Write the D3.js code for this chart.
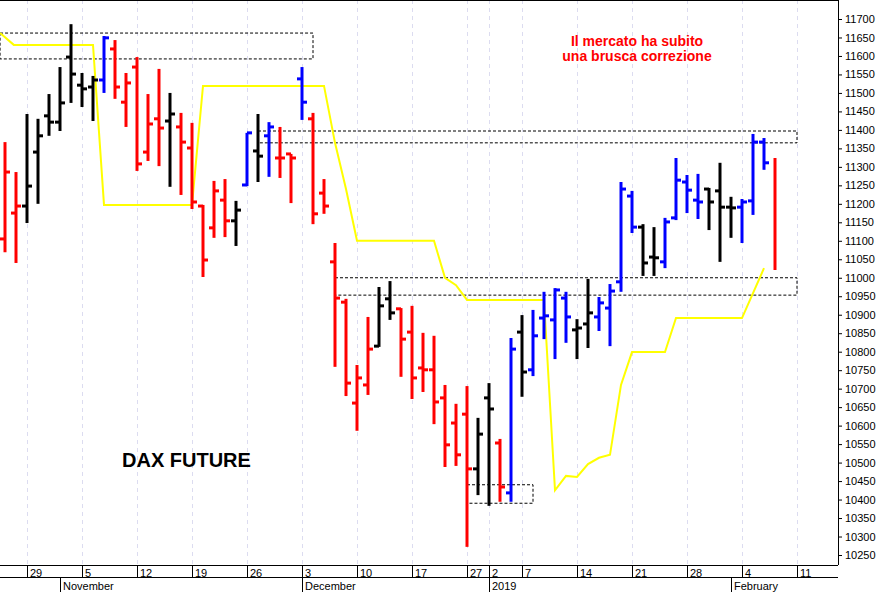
<!DOCTYPE html>
<html>
<head>
<meta charset="utf-8">
<script src="https://cdn.jsdelivr.net/npm/d3@7"></script>
<style>
  body { margin: 0; background: #fff; }
  text { font-family: "Liberation Sans", Arial, sans-serif; }
</style>
</head>
<body>
<script>
// OHLC per trading day (index 0 = 25 Oct 2018 ... 70 = 7 Feb 2019)
const highs  = [11367,11286,11443,11430,11497,11570,11686,11554,11546,11654,11643,11554,11597,11497,11565,11500,11446,11419,11197,11262,11267,11208,11392,11443,11421,11408,11335,11570,11446,11267,11094,10943,10764,10894,10975,10991,10918,10924,10851,10843,10710,10659,10707,10621,10715,10564,10837,10899,10913,10962,10972,10962,10888,10997,10948,10983,11259,11235,11145,11137,11162,11324,11278,11281,11243,11311,11219,11213,11389,11378,11324];
const lows   = [11069,11040,11148,11200,11384,11397,11473,11462,11424,11500,11484,11408,11289,11316,11302,11246,11224,11186,11002,11108,11110,11086,11248,11259,11273,11270,11202,11427,11145,11173,10759,10680,10586,10683,10813,10886,10732,10672,10691,10604,10488,10491,10272,10412,10383,10394,10394,10678,10734,10834,10780,10824,10780,10810,10856,10815,10962,11121,11005,11005,11026,11156,11175,11159,11129,11043,11108,11094,11170,11292,11021];
const opens  = [11105,11175,11194,11340,11438,11421,11597,11521,11516,11535,11619,11475,11570,11340,11430,11424,11408,11351,11194,11135,11210,11154,11251,11343,11384,11324,11335,11538,11430,11229,11043,10934,10661,10710,10815,10943,10916,10853,10756,10751,10675,10607,10631,10483,10675,10553,10418,10853,10751,10891,10886,10945,10859,10875,10894,10918,10989,11221,11137,11056,11043,11162,11259,11210,11240,11235,11191,11191,11208,11367,null];
const closes = [11286,11194,11248,11384,11421,11473,11551,11511,11535,11649,11516,11527,11308,11416,11405,11443,11367,11205,11048,11235,11154,11183,11392,11329,11408,11324,11324,11475,11173,11194,10945,10715,10729,10807,10924,10905,10834,10729,10751,10664,10548,10521,10483,10577,10645,10434,10807,10745,10843,10897,10967,10894,10864,10905,10932,10964,11240,11137,11040,11054,11151,11264,11237,11205,11205,11191,11189,11205,11367,11311,null];
const barColors = "rrkkkkkkkbrrrrrkrrrrrkbkbrrbrrrrrrkkrrrrrrrkkrbkbbbbkkbbbbkkbbbbkkkbbbr".split("");

// yellow stop line: [bar index, value]
const stopLine = [[-0.45,11662],[0.8,11630],[8,11630],[9,11197],[17,11197],[18,11519],[29,11519],[30,11365],[31,11240],[32,11100],[39,11100],[40,11000],[41,10980],[42,10940],[49,10940],[50,10425],[51,10464],[52,10461],[53,10496],[54,10513],[55,10521],[56,10710],[57,10799],[60,10799],[61,10891],[67,10891],[69,11026]];

// dashed zones: [from index, to index, low, high]
const zones = [[-0.45,28,11592,11662],[23,72,11365,11397],[30,72,10953,11000],[42,48,10390,10440]];

const yTicks = d3.range(10250, 11701, 50);
const dayTicks = [[2,"29"],[7,"5"],[12,"12"],[17,"19"],[22,"26"],[27,"3"],[32,"10"],[37,"17"],[42,"27"],[44,"2"],[47,"7"],[52,"14"],[57,"21"],[62,"28"],[67,"4"],[72,"11"]];
const monthTicks = [[5,"November"],[27,"December"],[44,"2019"],[66,"February"]];

const W = 896, H = 592, plotR = 838, plotB = 565;
const colorMap = { r: "#ff0000", k: "#000000", b: "#0000ff" };

const x = d3.scaleLinear().domain([0, 70]).range([5, 775]);
const y = d3.scaleLinear().domain([10250, 11700]).range([555, 19]);

const svg = d3.select("body").append("svg").attr("width", W).attr("height", H);

svg.append("defs").append("clipPath").attr("id", "plot")
  .append("rect").attr("x", 0).attr("y", 0).attr("width", plotR).attr("height", plotB);

// vertical grid
svg.append("g").selectAll("line").data(dayTicks).enter().append("line")
  .attr("x1", d => x(d[0]) + 0.5).attr("x2", d => x(d[0]) + 0.5)
  .attr("y1", 0).attr("y2", plotB)
  .style("stroke", "#dcdcf0").style("stroke-dasharray", "4,4");

const plot = svg.append("g").attr("clip-path", "url(#plot)");

// zones
plot.selectAll("rect.zone").data(zones).enter().append("rect")
  .attr("x", d => x(d[0])).attr("width", d => x(d[1]) - x(d[0]))
  .attr("y", d => y(d[3])).attr("height", d => y(d[2]) - y(d[3]))
  .style("fill", "none").style("stroke", "#000").style("stroke-dasharray", "3,2");

// yellow line
plot.append("path").datum(stopLine)
  .attr("d", d3.line().x(d => x(d[0])).y(d => y(d[1])))
  .style("fill", "none").style("stroke", "#ffff00").style("stroke-width", 2);

// bars
const bars = plot.selectAll("g.bar").data(highs.map((h, i) => i)).enter().append("g")
  .style("stroke", i => colorMap[barColors[i]]).style("stroke-width", 3);
bars.append("line")
  .attr("x1", i => x(i)).attr("x2", i => x(i))
  .attr("y1", i => y(highs[i])).attr("y2", i => y(lows[i]));
bars.filter(i => opens[i] != null).append("line")
  .attr("x1", i => x(i) - 5).attr("x2", i => x(i))
  .attr("y1", i => y(opens[i])).attr("y2", i => y(opens[i]));
bars.filter(i => closes[i] != null).append("line")
  .attr("x1", i => x(i)).attr("x2", i => x(i) + 5)
  .attr("y1", i => y(closes[i])).attr("y2", i => y(closes[i]));

// frame
svg.append("line").attr("x1", 0).attr("x2", plotR).attr("y1", 0.5).attr("y2", 0.5).style("stroke", "#000");
svg.append("line").attr("x1", plotR + 0.5).attr("x2", plotR + 0.5).attr("y1", 0).attr("y2", plotB).style("stroke", "#000");
svg.append("line").attr("x1", 0).attr("x2", plotR).attr("y1", plotB + 0.5).attr("y2", plotB + 0.5).style("stroke", "#000");

// y axis
const yAxis = svg.append("g").attr("transform", `translate(${plotR},0)`)
  .call(d3.axisRight(y).tickValues(yTicks).tickSize(4).tickFormat(d3.format("d")));
yAxis.select(".domain").remove();
yAxis.selectAll("text").style("font-size", "11px").attr("x", 7);

// x axis rows
const xa = svg.append("g");
xa.selectAll("line.d").data(dayTicks).enter().append("line")
  .attr("x1", d => x(d[0]) + 0.5).attr("x2", d => x(d[0]) + 0.5)
  .attr("y1", plotB).attr("y2", plotB + 12).style("stroke", "#000");
xa.selectAll("text.d").data(dayTicks).enter().append("text")
  .attr("x", d => x(d[0]) + 3).attr("y", plotB + 12)
  .style("font-size", "11px").text(d => d[1]);
xa.append("line").attr("x1", 0).attr("x2", plotR).attr("y1", plotB + 12.5).attr("y2", plotB + 12.5).style("stroke", "#000");
xa.selectAll("line.m").data(monthTicks).enter().append("line")
  .attr("x1", d => x(d[0]) + 0.5).attr("x2", d => x(d[0]) + 0.5)
  .attr("y1", plotB + 12).attr("y2", H).style("stroke", "#000");
xa.selectAll("text.m").data(monthTicks).enter().append("text")
  .attr("x", d => x(d[0]) + 3).attr("y", plotB + 25)
  .style("font-size", "11px").text(d => d[1]);

// annotations
svg.append("text").attr("x", 637).attr("y", 46).attr("text-anchor", "middle")
  .style("fill", "#ff0000").style("font-size", "14px").style("font-weight", "bold").text("Il mercato ha subito");
svg.append("text").attr("x", 637).attr("y", 61).attr("text-anchor", "middle")
  .style("fill", "#ff0000").style("font-size", "14px").style("font-weight", "bold").text("una brusca correzione");
svg.append("text").attr("x", 122).attr("y", 467)
  .style("font-size", "20px").style("font-weight", "bold").text("DAX FUTURE");
</script>
</body>
</html>
